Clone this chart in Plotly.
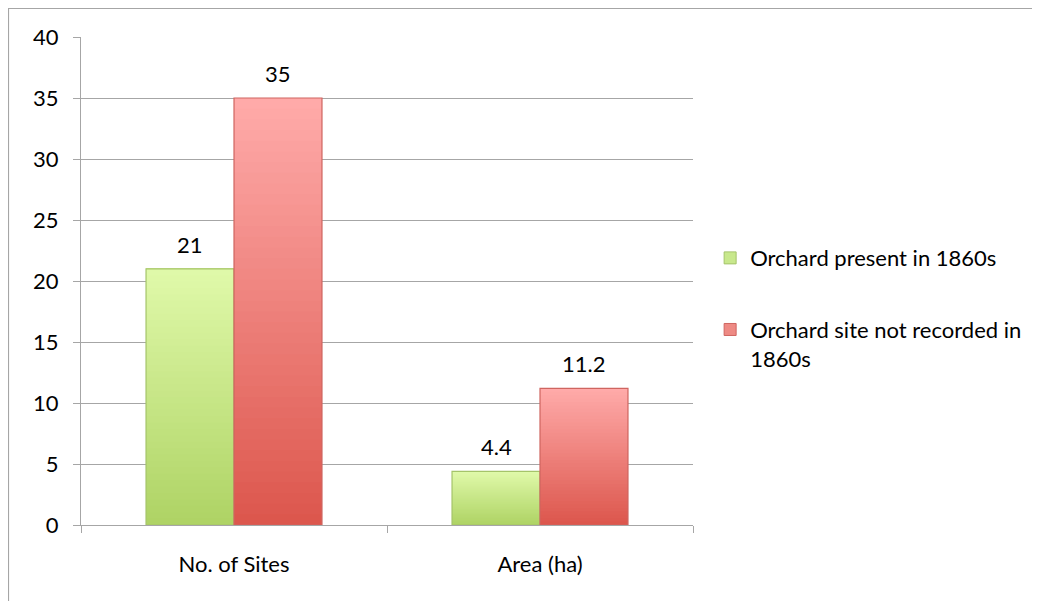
import plotly.graph_objects as go

categories = ["No. of Sites", "Area (ha)"]
series_names = ["Orchard present in 1860s", "Orchard site not recorded in<br>1860s"]
present_vals = [21, 4.4]
not_recorded_vals = [35, 11.2]
label_text_present = ["21", "4.4"]
label_text_not = ["35", "11.2"]

FONT = "Lato, 'Open Sans', sans-serif"
FS = 22
BARGAP = 0.425

def lerp(c1, c2, t):
    return "rgb(%d,%d,%d)" % tuple(round(a + (b - a) * t) for a, b in zip(c1, c2))

styles = [
    dict(top=(224, 249, 170), bot=(174, 211, 100), line="#a5c46a", mid="#c8e88c"),
    dict(top=(255, 171, 170), bot=(220, 86, 76), line="#cf6560", mid="#ee8a84"),
]
all_vals = [present_vals, not_recorded_vals]
all_labels = [label_text_present, label_text_not]

fig = go.Figure()
N = 40
for s, (name, vals, labels, st) in enumerate(zip(series_names, all_vals, all_labels, styles)):
    og = "g%d" % s
    fig.add_trace(go.Bar(x=categories, y=[None, None], name=name, offsetgroup=og,
                         legendgroup=og, marker=dict(color=st["mid"], line=dict(color=st["line"], width=1)),
                         hoverinfo="skip"))
    for i in range(N):
        t = (i + 0.5) / N  # 0 bottom -> 1 top
        fig.add_trace(go.Bar(x=categories, y=[v - v * i / N for v in vals], base=[v * i / N for v in vals],
                             offsetgroup=og, legendgroup=og, showlegend=False,
                             marker=dict(color=lerp(st["bot"], st["top"], t), line=dict(width=0)),
                             hoverinfo="skip"))
    fig.add_trace(go.Bar(x=categories, y=vals, offsetgroup=og, legendgroup=og, showlegend=False,
                         marker=dict(color="rgba(0,0,0,0)", line=dict(color=st["line"], width=1.2)),
                         hoverinfo="skip"))
    # data labels above bars
    off = (1 - BARGAP) / 4 * (1 if s == 1 else -1)
    for ci, (v, lab) in enumerate(zip(vals, labels)):
        fig.add_annotation(x=ci + off, y=v, xref="x", yref="y", text=lab, showarrow=False,
                           yanchor="bottom", yshift=9, font=dict(size=FS, color="black", family=FONT))

fig.update_layout(
    width=1040, height=601,
    margin=dict(l=73, r=355, t=29, b=84),
    paper_bgcolor="white", plot_bgcolor="white",
    barmode="group", bargap=BARGAP, bargroupgap=0,
    font=dict(family=FONT, size=FS, color="black"),
    showlegend=True,
    legend=dict(x=1.028, xanchor="left", y=0.59, yanchor="top", traceorder="grouped",
                tracegroupgap=40, valign="top", font=dict(size=FS, family=FONT),
                itemwidth=30),
)
fig.update_yaxes(range=[0, 40], dtick=5, showgrid=True, gridcolor="#a6a6a6", gridwidth=1,
                 showline=True, linecolor="#a6a6a6", linewidth=1, ticks="outside", ticklen=7,
                 tickcolor="#a6a6a6", zeroline=False, tickfont=dict(size=FS, color="black"),
                 ticklabelstandoff=10)
fig.update_xaxes(showline=True, linecolor="#a6a6a6", linewidth=1, ticks="outside", ticklen=7,
                 tickcolor="#a6a6a6", tickson="boundaries", tickfont=dict(size=FS, color="black"),
                 ticklabelstandoff=20)
fig.add_shape(type="rect", xref="paper", yref="paper", x0=-0.1185, x1=2.0, y0=-1.0, y1=1.0584,
              line=dict(color="#a6a6a6", width=1.2), fillcolor="rgba(0,0,0,0)", layer="below")
fig.write_html("out.html")
